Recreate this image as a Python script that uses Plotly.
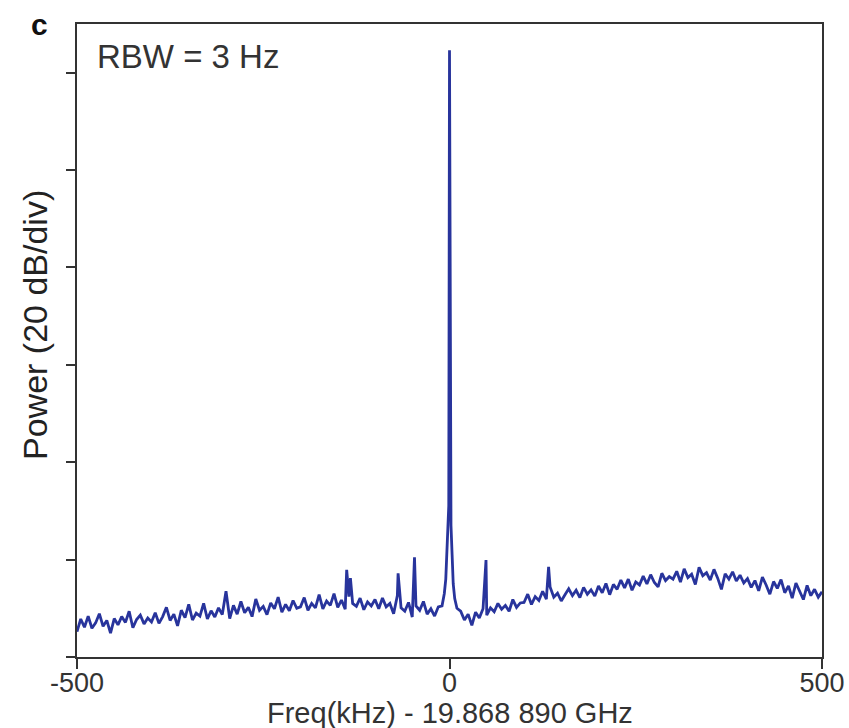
import plotly.graph_objects as go

# Noise floor sampled every 5 kHz from -500 to 500 kHz (dB, relative to bottom tick)
grid_freq = [(-500 + 5 * i) for i in range(201)]
noise_db = [
    5.2, 7.8, 6.1, 8.4, 5.9, 7.0, 8.9, 6.3, 7.5, 4.9, 7.9, 6.6, 8.3, 7.1, 9.4, 6.0, 7.7, 8.6, 6.8, 8.0,
    7.2, 9.1, 6.9, 8.3, 10.2, 7.5, 8.8, 6.4, 9.6, 8.1, 10.8, 7.6, 9.0, 8.4, 11.0, 7.8, 9.5, 8.2, 10.1, 8.7,
    13.5, 7.9, 10.6, 8.8, 11.4, 9.1, 10.2, 8.3, 11.9, 9.6, 10.4, 8.7, 11.1, 9.9, 12.3, 9.2, 10.8, 9.5, 11.6, 10.0,
    10.3, 12.2, 9.6, 11.0, 10.1, 12.8, 9.9, 11.5, 10.6, 13.0, 10.2, 11.7, 9.8, 12.4, 11.0, 10.4, 12.1, 9.7, 11.3, 10.5,
    11.8, 9.9, 12.1, 10.3, 11.0, 8.9, 12.6, 10.1, 9.4, 11.2, 8.2, 10.5, 9.6, 11.4, 8.8, 9.9, 8.4, 10.3, 9.1, 9.8,
    9.7, 9.0, 8.2, 9.4, 7.6, 8.8, 6.5, 9.2, 8.0, 9.9, 8.6, 10.1, 9.3, 11.0, 9.8, 10.6, 9.4, 11.8, 10.2, 11.1,
    11.2, 12.9, 10.8, 12.4, 11.6, 13.5, 11.9, 14.4, 12.3, 13.1, 11.5, 12.8, 14.0, 12.6, 13.7, 12.2, 14.3, 12.9, 13.8, 12.5,
    14.6, 13.2, 15.1, 12.8, 14.9, 13.9, 15.8, 14.2, 16.0, 13.7, 15.4, 14.8, 16.6, 15.0, 16.9, 15.3, 14.4, 17.2, 15.7, 16.5,
    16.0, 17.6, 15.4, 18.1, 16.3, 17.0, 14.9, 18.4, 16.7, 17.3, 15.8, 18.0, 16.2, 13.9, 17.1, 16.0, 17.5, 15.6, 16.8, 15.2,
    16.1, 14.3, 15.7, 13.6, 16.4, 14.8, 12.9, 15.5, 14.1, 15.9, 13.2, 14.6, 12.1, 15.2, 13.4, 11.8, 14.7, 12.6, 13.9, 12.3, 13.4,
]

# Carrier peak and its skirt
peak_freq = [-10, -7, -5, -3.5, -2, -1, 0, 1, 2, 3.5, 5, 7, 10]
peak_db = [10.5, 13.0, 16.0, 22.0, 28.0, 31.0, 124.6, 31.0, 27.0, 21.0, 15.0, 12.0, 10.0]

# Spurious tones
spur_freq = [-138, -133, -69, -47, 49, 133]
spur_db = [17.9, 16.2, 17.2, 20.5, 19.9, 18.5]

# Y ticks (20 dB/div), labels hidden
y_ticks = [0, 20, 40, 60, 80, 100, 120]
x_ticks = [-500, 0, 500]
x_tick_text = ["-500", "0", "500"]

points = {}
for f, v in zip(grid_freq, noise_db):
    if -10 < f < 10:
        continue
    points[f] = v
for f, v in zip(spur_freq, spur_db):
    points[f] = v
for f, v in zip(peak_freq, peak_db):
    points[f] = v
freqs = sorted(points)
vals = [points[f] for f in freqs]

fig = go.Figure()
fig.add_trace(go.Scatter(
    x=freqs, y=vals, mode="lines",
    line=dict(color="#28349c", width=2.8),
    hoverinfo="skip", showlegend=False,
))

axis_color = "#333333"
fig.update_layout(
    width=849, height=728,
    margin=dict(l=77, r=27, t=24, b=71),
    paper_bgcolor="white", plot_bgcolor="white",
    font=dict(family="Liberation Sans, Arial, sans-serif", color="#333333"),
    xaxis=dict(
        range=[-500, 500], tickvals=x_ticks, ticktext=x_tick_text,
        ticks="outside", ticklen=10, tickwidth=2, tickcolor=axis_color,
        showline=True, linecolor=axis_color, linewidth=2, mirror=True,
        showgrid=False, zeroline=False, automargin=False,
        ticklabelstandoff=-9,
        tickfont=dict(size=27, color="#333333"),
    ),
    yaxis=dict(
        range=[0, 130], tickvals=y_ticks, showticklabels=False,
        ticks="outside", ticklen=9, tickwidth=2, tickcolor=axis_color,
        showline=True, linecolor=axis_color, linewidth=2, mirror=True,
        showgrid=False, zeroline=False, automargin=False,
    ),
    annotations=[
        dict(text="Freq(kHz) - 19.868 890 GHz", xref="paper", yref="paper",
             x=0.5, y=-0.0885, xanchor="center", yanchor="middle", showarrow=False,
             font=dict(size=29, color="#333333")),
        dict(text="Power (20 dB/div)", xref="paper", yref="paper",
             x=-0.0564, y=0.5245, xanchor="center", yanchor="middle", textangle=-90,
             showarrow=False, font=dict(size=34, color="#222222")),
        dict(text="RBW = 3 Hz", xref="paper", yref="paper",
             x=0.0242, y=0.949, xanchor="left", yanchor="middle", showarrow=False,
             font=dict(size=33, color="#333333")),
        dict(text="<b>c</b>", xref="paper", yref="paper",
             x=-0.051, y=1.0, xanchor="center", yanchor="middle", showarrow=False,
             font=dict(size=30, color="#111111")),
    ],
)

fig.write_html(
    "out.html",
    config={"displayModeBar": False},
    post_script="document.body.style.margin='0px';document.body.style.overflow='hidden';",
)
